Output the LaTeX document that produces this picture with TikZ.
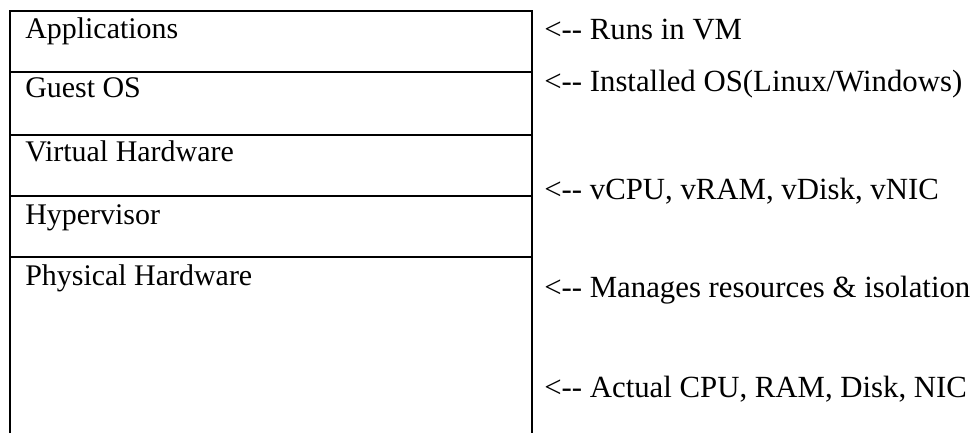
\documentclass[tikz,border=0pt]{standalone}
\usepackage{fontspec}
\setmainfont{Liberation Serif}
\usetikzlibrary{positioning}

\tikzset{
  layer/.style={anchor=base west,inner sep=0pt,font=\fontsize{21.3}{25}\selectfont},
  note/.style={anchor=base west,inner sep=0pt,font=\fontsize{21.9}{25}\selectfont},
  frame/.style={draw=black,line width=1.3pt}
}

\begin{document}
\begin{tikzpicture}
\useasboundingbox (0,0) rectangle (24.375,10.825);

% stack frame
\coordinate (TL) at (0.25,10.55);
\coordinate (TR) at (13.3,10.55);
\coordinate (BL) at (0.25,0);
\coordinate (BR) at (13.3,0);
\draw[frame] (BL) -- (TL) -- (TR) -- (BR);
\foreach \y in {9.025,7.45,5.925,4.4}
  \draw[frame] (0.25,\y) -- (13.3,\y);

\node[layer] (A) at (0.625,9.85) {Applications};
\node[layer] (G) at (0.625,8.375) {Guest OS};
\node[layer] (V) at (0.625,6.775) {Virtual Hardware};
\node[layer] (H) at (0.625,5.2) {Hypervisor};
\node[layer] (P) at (0.625,3.675) {Physical Hardware};

\node[note] (nA) at (13.6,9.825) {<-{}- Runs in VM};
\node[note] (nG) at (13.6,8.525) {<-{}- Installed OS(Linux/Windows)};
\node[note] (nV) at (13.6,5.825) {<-{}- vCPU, vRAM, vDisk, vNIC};
\node[note] (nH) at (13.6,3.4) {<-{}- Manages resources \& isolation};
\node[note] (nP) at (13.6,0.9) {<-{}- Actual CPU, RAM, Disk, NIC};
\end{tikzpicture}
\end{document}
